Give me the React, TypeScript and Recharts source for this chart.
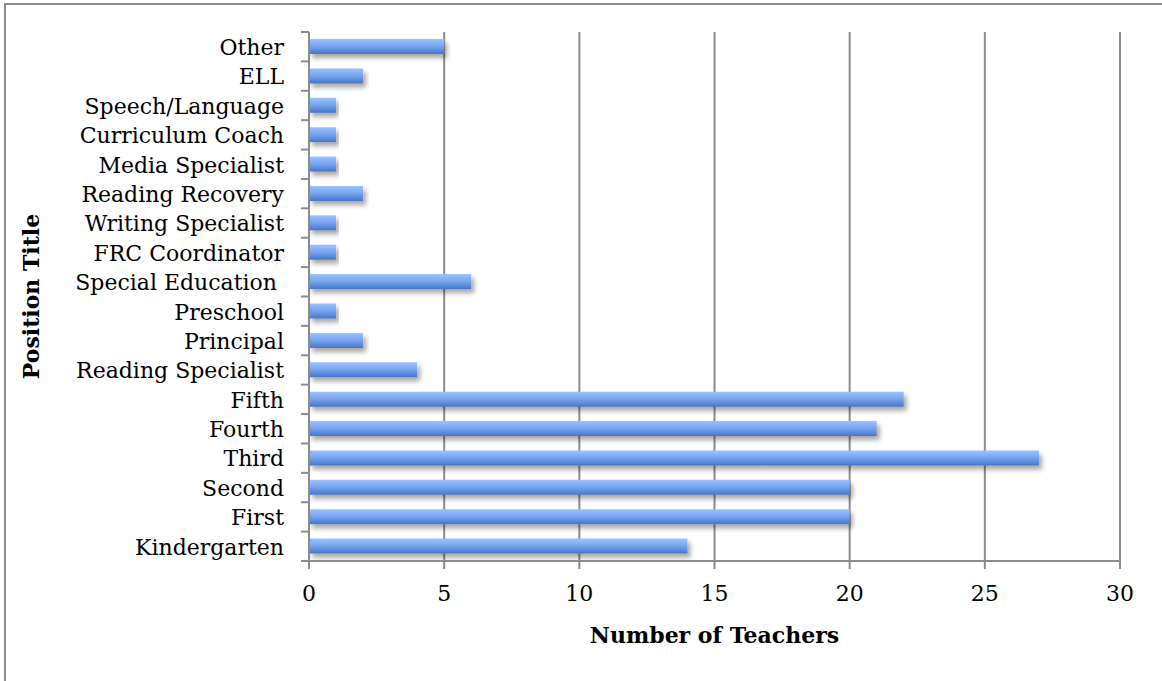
import { BarChart, Bar, XAxis, YAxis, CartesianGrid } from "recharts"

const positions = [
  "Other", "ELL", "Speech/Language", "Curriculum Coach", "Media Specialist",
  "Reading Recovery", "Writing Specialist", "FRC Coordinator", "Special Education ",
  "Preschool", "Principal", "Reading Specialist", "Fifth", "Fourth", "Third",
  "Second", "First", "Kindergarten",
]
const teachers = [5, 2, 1, 1, 1, 2, 1, 1, 6, 1, 2, 4, 22, 21, 27, 20, 20, 14]
const xTicks = [0, 5, 10, 15, 20, 25, 30]

const data = positions.map((name, i) => ({ name, teachers: teachers[i] }))

const W = 1162
const H = 681
const TOP = 32
const BOTTOM_AXIS = 90
const BOTTOM_MARGIN = 30
const Y_AXIS_W = 309
const RIGHT = 42
const PLOT_H = H - TOP - BOTTOM_AXIS - BOTTOM_MARGIN
const BAND = PLOT_H / positions.length
const FONT = "'DejaVu Serif', serif"
const FS = 22
const GRAY = "#8c8c8c"

function YTick(props: any) {
  const { x, y, payload, index } = props
  return (
    <g>
      <line x1={Y_AXIS_W - 8} x2={Y_AXIS_W} y1={y + BAND / 2} y2={y + BAND / 2} stroke={GRAY} strokeWidth={2} />
      {index === 0 && (
        <line x1={Y_AXIS_W - 8} x2={Y_AXIS_W} y1={y - BAND / 2} y2={y - BAND / 2} stroke={GRAY} strokeWidth={2} />
      )}
      <text x={x} y={y} dy="0.38em" textAnchor="end" fill="#000" fontSize={FS} fontFamily={FONT} style={{ whiteSpace: "pre" }}>
        {payload.value}
      </text>
    </g>
  )
}

function YTitle(props: any) {
  const { viewBox } = props
  const cx = viewBox.x + 31
  const cy = viewBox.y + viewBox.height / 2
  return (
    <text x={cx} y={cy} dy="0.36em" transform={`rotate(-90, ${cx}, ${cy})`} textAnchor="middle"
      fontSize={FS} fontWeight="bold" fontFamily={FONT} fill="#000">
      Position Title
    </text>
  )
}

function XTitle(props: any) {
  const { viewBox } = props
  return (
    <text x={viewBox.x + viewBox.width / 2} y={viewBox.y + 82} textAnchor="middle"
      fontSize={FS} fontWeight="bold" fontFamily={FONT} fill="#000">
      Number of Teachers
    </text>
  )
}

export default function App() {
  return (
    <div style={{ position: "absolute", left: 0, top: 0, width: W, height: H, background: "#fff" }}>
      <div style={{ position: "absolute", left: 4, top: 3, right: 0, bottom: 0, borderTop: `2px solid ${GRAY}`, borderLeft: `2px solid ${GRAY}` }} />
      <svg width={0} height={0} style={{ position: "absolute" }}>
        <defs>
          <linearGradient id="barGrad" x1="0" y1="0" x2="0" y2="1">
            <stop offset="0%" stopColor="#9ec2fb" />
            <stop offset="50%" stopColor="#76a3ed" />
            <stop offset="100%" stopColor="#4477ca" />
          </linearGradient>
          <filter id="barShadow" x="-10%" y="-50%" width="120%" height="250%">
            <feDropShadow dx="3" dy="4" stdDeviation="2.5" floodColor="#000" floodOpacity="0.35" />
          </filter>
        </defs>
      </svg>
      <BarChart
        width={W}
        height={H}
        data={data}
        layout="vertical"
        margin={{ top: TOP, right: RIGHT, bottom: BOTTOM_MARGIN, left: 0 }}
        style={{ position: "absolute", left: 0, top: 0 }}
      >
        <CartesianGrid horizontal={false} stroke={GRAY} strokeWidth={2} />
        <XAxis
          type="number"
          domain={[0, 30]}
          ticks={xTicks}
          height={BOTTOM_AXIS}
          tickSize={8}
          tickMargin={16}
          axisLine={{ stroke: GRAY, strokeWidth: 2 }}
          tickLine={{ stroke: GRAY, strokeWidth: 2 }}
          tick={{ fill: "#000", fontSize: FS, fontFamily: FONT }}
          label={{ content: XTitle }}
        />
        <YAxis
          type="category"
          dataKey="name"
          width={Y_AXIS_W}
          tickSize={8}
          tickMargin={17}
          tickLine={false}
          axisLine={{ stroke: GRAY, strokeWidth: 2 }}
          tick={YTick}
          interval={0}
          label={{ content: YTitle }}
        />
        <Bar dataKey="teachers" barSize={15} fill="url(#barGrad)" filter="url(#barShadow)" isAnimationActive={false} />
      </BarChart>
    </div>
  )
}
